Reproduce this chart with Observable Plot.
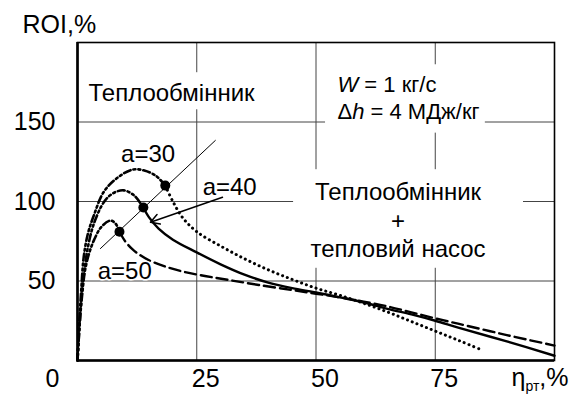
<!DOCTYPE html>
<html>
<head>
<meta charset="utf-8">
<script src="https://cdn.jsdelivr.net/npm/d3@7"></script>
<script src="https://cdn.jsdelivr.net/npm/@observablehq/plot@0.6"></script>
<style>
  html, body { margin: 0; padding: 0; background: #fff; }
  #chart { width: 583px; height: 394px; }
</style>
</head>
<body>
<div id="chart"></div>
<script>
// ---- tick labels ----
const xTicks = [25, 50, 75];
const yTicks = [50, 100, 150];
const originTick = [0];

// ---- rising (dash-dot) branches ----
const rise30X = [0, 0.4, 0.8, 1.3, 2.2, 3.4, 5.5, 8.4, 11.5, 14, 16.5, 18.4];
const rise30Y = [0, 25, 45, 65, 80, 91, 106, 115, 120, 119.5, 116, 110];
const rise40X = [0, 0.5, 1, 1.6, 2.1, 3, 3.8, 5, 6.3, 8, 9.7, 11.8, 13.8];
const rise40Y = [0, 25, 45, 60, 70, 82, 89, 97, 102.5, 106, 107, 104, 96.2];
const rise50X = [0, 0.5, 1, 1.6, 2.5, 3.5, 5, 6.9, 8, 8.8];
const rise50Y = [0, 25, 42, 57, 68, 76, 84, 88, 86, 81];

// ---- falling branches ----
// a=30 : dotted
const fall30X = [18.4, 20, 22, 25, 30, 35, 40, 45, 50, 55, 60, 65, 70, 75, 80, 85];
const fall30Y = [110, 100, 90, 81, 72, 64, 57, 51, 45.5, 41, 36, 30.5, 24.5, 18.5, 12.5, 6.3];
// a=40 : solid
const fall40X = [13.8, 15, 17, 20, 25, 30, 35, 40, 45, 50, 55, 60, 65, 70, 75, 80, 90, 100];
const fall40Y = [96.2, 90, 83, 76, 68, 60.5, 54, 49, 45.5, 42.8, 39.7, 36.5, 32.5, 29, 25, 20.5, 12, 3];
// a=50 : dashed
const fall50X = [8.8, 10, 11.5, 13, 15, 18, 22, 27, 32, 38, 45, 50, 55, 60, 65, 70, 75, 80, 90, 100];
const fall50Y = [81, 75, 70, 66.5, 63, 59.5, 56, 53, 50.5, 47.5, 44.3, 42, 39.7, 37, 34, 30.3, 26.5, 23, 16, 9.4];

// ---- optimum points and their connecting line ----
const optX = [18.4, 13.8, 8.8];
const optY = [110, 96.2, 81];
const optLineX = [4.8, 28.9];
const optLineY = [70.4, 138.4];

// ---- annotations ----
const aLabels = ["a=30", "a=40", "a=50"];
const aLabelX = [14.8, 31.9, 9.9];
const aLabelY = [124.7, 103.8, 51.4];
const arrowFrom = [30.4, 102.7];
const arrowTo = [15.3, 87];

const hxText = "Теплообмінник";
const hxPos = [2.3, 163.5];
const paramText = ["W = 1 кг/с", "Δh = 4 МДж/кг"];
const paramX = [54.5, 54.5];
const paramY = [168.6, 152.2];
const hpText = "Теплообмінник\n+\nтепловий насос";
const hpPos = [67.2, 64.8];

// white backgrounds behind text blocks (break the grid lines)
const boxX1 = [1.7, 52, 45.3];
const boxX2 = [38.8, 85.5, 93.5];
const boxY1 = [157.7, 143, 58];
const boxY2 = [181, 186, 120];

const pts = (X, Y) => X.map((x, i) => ({x, y: Y[i]}));
const boxes = boxX1.map((x1, i) => ({x1, x2: boxX2[i], y1: boxY1[i], y2: boxY2[i]}));
const labels = aLabels.map((t, i) => ({t, x: aLabelX[i], y: aLabelY[i]}));
const params = paramText.map((t, i) => ({t, x: paramX[i], y: paramY[i]}));

const FONT = "'Liberation Sans', Arial, Helvetica, sans-serif";
const dashDot = "7,3,2,3,2,3";

const chart = Plot.plot({
  width: 583,
  height: 394,
  marginLeft: 77,
  marginRight: 29,
  marginTop: 42,
  marginBottom: 34,
  style: {fontFamily: FONT, background: "white", color: "black"},
  x: {domain: [0, 100]},
  y: {domain: [0, 200]},
  marks: [
    Plot.gridX(xTicks, {stroke: "#444", strokeOpacity: 1, strokeWidth: 1}),
    Plot.gridY(yTicks, {stroke: "#444", strokeOpacity: 1, strokeWidth: 1}),
    Plot.rect(boxes, {x1: "x1", x2: "x2", y1: "y1", y2: "y2", fill: "white"}),
    Plot.frame({stroke: "black", strokeWidth: 1.6}),
    Plot.ruleX([0], {stroke: "black", strokeWidth: 2.6}),
    Plot.ruleY([0], {stroke: "black", strokeWidth: 2.6}),
    Plot.axisY(yTicks, {tickSize: 0, tickPadding: 22, fontSize: 25, label: null}),
    Plot.axisX(xTicks, {tickSize: 0, tickPadding: 9, dx: 9, fontSize: 25, label: null}),
    Plot.axisX(originTick, {tickSize: 0, tickPadding: 9, dx: -25, fontSize: 25, label: null}),
    Plot.line(pts(optLineX, optLineY), {x: "x", y: "y", stroke: "black", strokeWidth: 1}),
    Plot.line(pts(rise30X, rise30Y), {x: "x", y: "y", curve: "catmull-rom", stroke: "black", strokeWidth: 2.6, strokeDasharray: dashDot}),
    Plot.line(pts(rise40X, rise40Y), {x: "x", y: "y", curve: "catmull-rom", stroke: "black", strokeWidth: 2.6, strokeDasharray: dashDot}),
    Plot.line(pts(rise50X, rise50Y), {x: "x", y: "y", curve: "catmull-rom", stroke: "black", strokeWidth: 2.6, strokeDasharray: dashDot}),
    Plot.line(pts(fall30X, fall30Y), {x: "x", y: "y", curve: "catmull-rom", stroke: "black", strokeWidth: 3, strokeDasharray: "0.1,5", strokeLinecap: "round"}),
    Plot.line(pts(fall40X, fall40Y), {x: "x", y: "y", curve: "catmull-rom", stroke: "black", strokeWidth: 2.4}),
    Plot.line(pts(fall50X, fall50Y), {x: "x", y: "y", curve: "catmull-rom", stroke: "black", strokeWidth: 2.4, strokeDasharray: "11,5"}),
    Plot.dot(pts(optX, optY), {x: "x", y: "y", r: 5, fill: "black", stroke: "none"}),
    Plot.arrow([{x1: arrowFrom[0], y1: arrowFrom[1], x2: arrowTo[0], y2: arrowTo[1]}],
      {x1: "x1", y1: "y1", x2: "x2", y2: "y2", stroke: "black", strokeWidth: 1.5, headLength: 10}),
    Plot.text(labels, {x: "x", y: "y", text: "t", fontSize: 24, textAnchor: "middle", lineAnchor: "bottom", fill: "black", stroke: "white", strokeWidth: 3}),
    Plot.text([hxText], {x: () => hxPos[0], y: () => hxPos[1], text: d => d, fontSize: 24, textAnchor: "start", lineAnchor: "bottom", fill: "black"}),
    Plot.text(params, {x: "x", y: "y", text: "t", fontSize: 22, textAnchor: "start", lineAnchor: "bottom", fill: "black"}),
    Plot.text([hpText], {x: () => hpPos[0], y: () => hpPos[1], text: d => d, fontSize: 24, lineHeight: 1.19, textAnchor: "middle", lineAnchor: "bottom", fill: "black"}),
    Plot.text(["ROI,%"], {frameAnchor: "top-left", dx: -55, dy: -10, text: d => d, fontSize: 25, textAnchor: "start", lineAnchor: "bottom", fill: "black"}),
    Plot.text(["ηрт,%"], {frameAnchor: "bottom-right", dx: -43, dy: 25, text: d => d, fontSize: 25, textAnchor: "start", lineAnchor: "bottom", fill: "black"})
  ]
});

document.getElementById("chart").appendChild(chart);

// rich text: italics and subscript
d3.select(chart).selectAll("text").each(function () {
  const t = d3.select(this);
  const s = this.textContent;
  if (s === "W = 1 кг/с") {
    t.text(null);
    t.append("tspan").attr("font-style", "italic").text("W");
    t.append("tspan").text(" = 1 кг/с");
  } else if (s === "Δh = 4 МДж/кг") {
    t.text(null);
    t.append("tspan").text("Δ");
    t.append("tspan").attr("font-style", "italic").text("h");
    t.append("tspan").text(" = 4 МДж/кг");
  } else if (s === "ηрт,%") {
    t.text(null);
    t.append("tspan").text("η");
    t.append("tspan").attr("font-size", 14).attr("dy", 5).text("рт");
    t.append("tspan").attr("dy", -5).text(",%");
  }
});
</script>
</body>
</html>
